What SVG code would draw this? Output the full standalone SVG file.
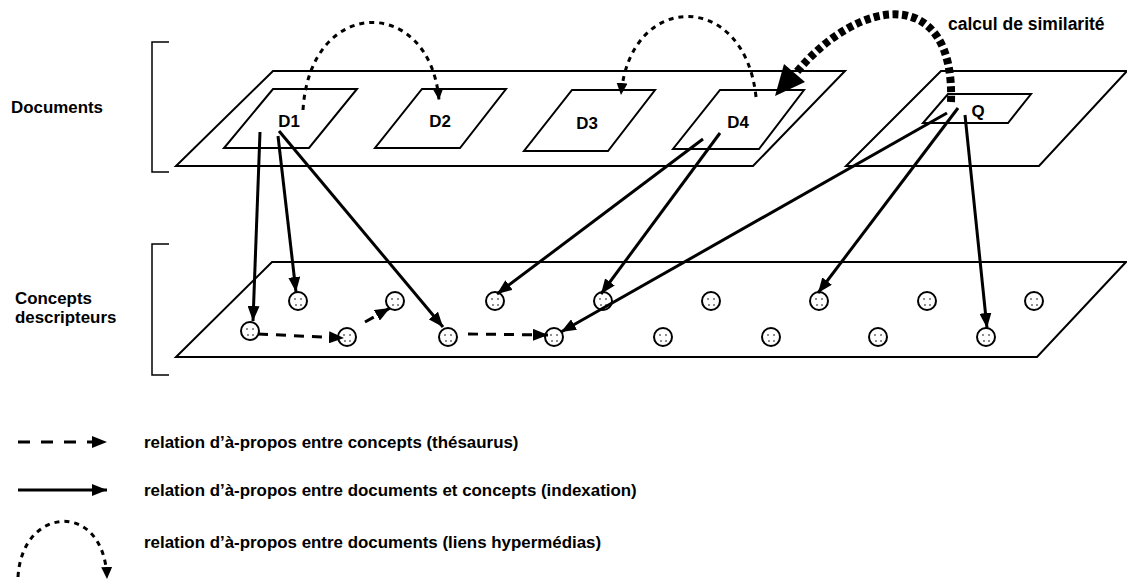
<svg xmlns="http://www.w3.org/2000/svg" xmlns:xlink="http://www.w3.org/1999/xlink" width="1127" height="581" viewBox="0 0 1127 581">
<style>
.pl{fill:none;stroke:#000;stroke-width:2}
.br{fill:none;stroke:#000;stroke-width:1.5}
.t{font-family:"Liberation Sans",Arial,sans-serif;font-weight:bold;font-size:16.9px;fill:#000}
.tc{text-anchor:middle}
.ix{fill:none;stroke:#000;stroke-width:3;marker-end:url(#ah)}
.th{fill:none;stroke:#000;stroke-width:3;stroke-dasharray:10 8;marker-end:url(#ah)}
.hy{fill:none;stroke:#000;stroke-width:3;stroke-dasharray:5 5;marker-end:url(#ahs)}
.sim{fill:none;stroke:#000;stroke-width:8;stroke-dasharray:6 3.5}
.cc{fill:#fff;stroke:#000;stroke-width:2}
.dt{fill:#000}
</style>
<defs>
<marker id="ah" markerUnits="userSpaceOnUse" markerWidth="16" markerHeight="12" refX="15" refY="6" orient="auto"><path d="M0,0 L15,6 L0,12 z" fill="#000"/></marker>
<marker id="ahs" markerUnits="userSpaceOnUse" markerWidth="13" markerHeight="11" refX="12" refY="5.5" orient="auto"><path d="M0,0 L12,5.5 L0,11 z" fill="#000"/></marker>
<g id="cp"><circle class="cc" r="9"/><circle class="dt" cx="-3" cy="-2" r="0.8"/><circle class="dt" cx="3" cy="-2" r="0.8"/><circle class="dt" cx="-2" cy="4" r="0.8"/><circle class="dt" cx="3" cy="4" r="0.8"/></g>
</defs>
<rect width="1127" height="581" fill="#fff"/>

<g id="labels">
<text class="t" x="11" y="113">Documents</text>
<text class="t" x="15" y="304">Concepts</text>
<text class="t" x="15" y="323">descripteurs</text>
</g>
<g id="brackets">
<path class="br" d="M169,42 H152 V172 H169"/>
<path class="br" d="M169,244 H152 V375 H169"/>
</g>

<g id="plane-documents"><path class="pl" d="M273,71 H845 L753,166 H176 Z"/></g>
<g id="plane-query"><path class="pl" d="M941,71 H1127 L1039,166 H846 Z"/></g>
<g id="plane-concepts"><path class="pl" d="M272,262 H1126 L1037,357 H176 Z"/></g>

<g id="D1"><path class="pl" d="M273,89 H357 L309,148 H224 Z"/><text class="t tc" x="289" y="127">D1</text></g>
<g id="D2"><path class="pl" d="M422,89 H506 L460,148 H375 Z"/><text class="t tc" x="440" y="127">D2</text></g>
<g id="D3"><path class="pl" d="M572,90 H655 L608,151 H524 Z"/><text class="t tc" x="587" y="129">D3</text></g>
<g id="D4"><path class="pl" d="M720,90 H804 L759,149 H673 Z"/><text class="t tc" x="738" y="128">D4</text></g>
<g id="Q"><path class="pl" d="M948,94 H1031 L1008,123 H923 Z"/><text class="t tc" x="978" y="117">Q</text></g>

<g id="concepts">
<g id="c1"><use xlink:href="#cp" x="298" y="301"/></g>
<g id="c2"><use xlink:href="#cp" x="395" y="301"/></g>
<g id="c3"><use xlink:href="#cp" x="495" y="301"/></g>
<g id="c4"><use xlink:href="#cp" x="603" y="301"/></g>
<g id="c5"><use xlink:href="#cp" x="711" y="301"/></g>
<g id="c6"><use xlink:href="#cp" x="819" y="301"/></g>
<g id="c7"><use xlink:href="#cp" x="927" y="301"/></g>
<g id="c8"><use xlink:href="#cp" x="1034" y="301"/></g>
<g id="c9"><use xlink:href="#cp" x="250" y="331"/></g>
<g id="c10"><use xlink:href="#cp" x="347" y="337"/></g>
<g id="c11"><use xlink:href="#cp" x="448" y="337"/></g>
<g id="c12"><use xlink:href="#cp" x="554" y="337"/></g>
<g id="c13"><use xlink:href="#cp" x="663" y="337"/></g>
<g id="c14"><use xlink:href="#cp" x="771" y="337"/></g>
<g id="c15"><use xlink:href="#cp" x="878" y="337"/></g>
<g id="c16"><use xlink:href="#cp" x="986" y="337"/></g>
</g>

<g id="connectors">
<path class="ix" d="M260,132 L253,321"/>
<path class="ix" d="M278,136 L296,292"/>
<path class="ix" d="M279,131 L443,327"/>
<path class="ix" d="M703,139 L497,294"/>
<path class="ix" d="M720,133 L601,294"/>
<path class="ix" d="M947,113 L561,332"/>
<path class="ix" d="M958,108 L818,293"/>
<path class="ix" d="M965,115 L987,328"/>
<path class="th" d="M258,334 L344,338"/>
<path class="th" d="M365,322 L390,308"/>
<path class="th" d="M468,334 L548,335"/>
<path class="hy" d="M303,110 C310,-5 430,-5 439,100"/>
<path class="hy" d="M756,97 C745,-10 630,-10 621,95"/>
<path class="sim" d="M951,102 C955,-15 860,-5 795,74"/>
<path d="M775,96 L784,64 L805,82 Z" fill="#000"/>
<text class="t" x="948" y="30" style="font-size:17.5px">calcul de similarité</text>
</g>

<g id="legend">
<path class="th" d="M18,442 L107,442" style="stroke-dasharray:12 11"/>
<text class="t" x="144" y="448">relation d’à-propos entre concepts (thésaurus)</text>
<path class="ix" d="M18,490 L107,490"/>
<text class="t" x="144" y="496">relation d’à-propos entre documents et concepts (indexation)</text>
<path class="hy" d="M18,577 C22,505 105,500 107,579"/>
<text class="t" x="144" y="548">relation d’à-propos entre documents (liens hypermédias)</text>
</g>
</svg>
